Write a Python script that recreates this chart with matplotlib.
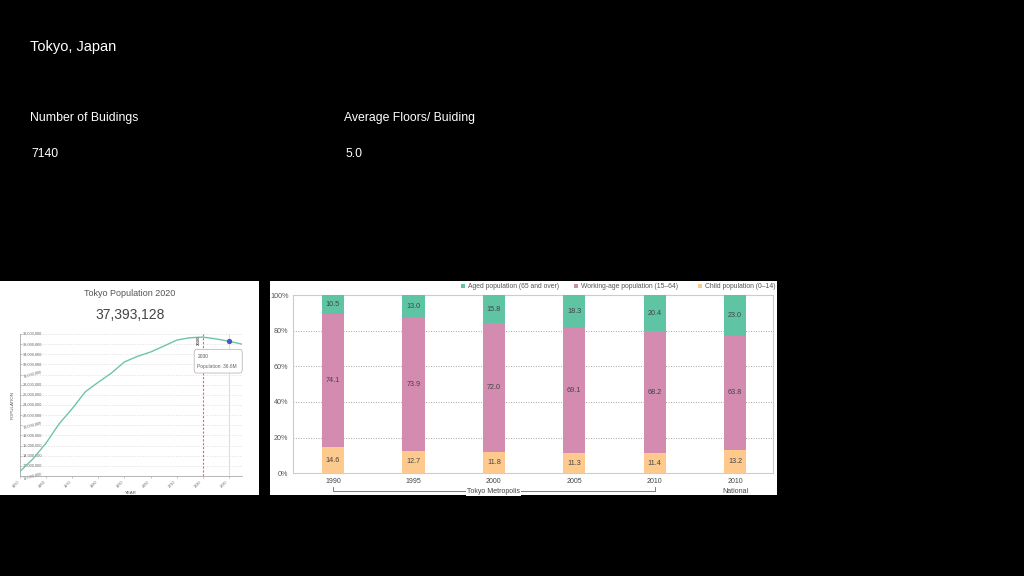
import matplotlib
matplotlib.use('Agg')
import matplotlib.pyplot as plt
import matplotlib.transforms as mtransforms
from matplotlib.patches import FancyBboxPatch, Rectangle

plt.rcParams['font.family'] = ['Liberation Sans', 'DejaVu Sans']

# ---- data ----
city = "Tokyo, Japan"
stat_names = ["Number of Buidings", "Average Floors/ Buiding"]
stat_values = ["7140", "5.0"]

years = [1950, 1955, 1960, 1965, 1970, 1975, 1980, 1985, 1990, 1995,
         2000, 2005, 2010, 2015, 2020, 2025, 2030, 2035]
population = [10.9, 13.4, 16.5, 20.3, 23.3, 26.6, 28.5, 30.3, 32.5, 33.6,
              34.45, 35.6, 36.8, 37.26, 37.39, 37.04, 36.57, 36.0]  # millions
pop_title = "Tokyo Population 2020"
pop_total = "37,393,128"
highlight_year = 2030
highlight_value = 36.57

bar_labels = ["1990", "1995", "2000", "2005", "2010", "2010"]
child = [14.6, 12.7, 11.8, 11.3, 11.4, 13.2]
working = [74.1, 73.9, 72.0, 69.1, 68.2, 63.8]
aged = [10.5, 13.0, 15.8, 18.3, 20.4, 23.0]
series_names = ["Aged population (65 and over)",
                "Working-age population (15\u201364)",
                "Child population (0\u201314)"]

W, H = 1024, 576
fig = plt.figure(figsize=(W / 100, H / 100), dpi=100, facecolor='black')


def box(x0, y0, x1, y1):
    # pixel box (top-left origin) -> figure fraction rect
    return [x0 / W, 1 - y1 / H, (x1 - x0) / W, (y1 - y0) / H]


# ---- header text ----
fig.text(30 / W, 1 - 47 / H, city, color='white', fontsize=10.5, va='center')
for i, (n, v) in enumerate(zip(stat_names, stat_values)):
    x = [30, 344][i] / W
    fig.text(x, 1 - 118 / H, n, color='white', fontsize=8.8, va='center')
    fig.text(x + 1 / W, 1 - 154 / H, v, color='white', fontsize=8.8, va='center')

# ---- white panels ----
for (x0, y0, x1, y1) in [(0, 281, 259, 495), (270, 281, 777, 495)]:
    fig.patches.append(Rectangle((x0 / W, 1 - y1 / H), (x1 - x0) / W, (y1 - y0) / H,
                                 transform=fig.transFigure, facecolor='white',
                                 edgecolor='none', zorder=-5))

# ---- left: population line ----
fig.text(130 / W, 1 - 294 / H, pop_title, ha='center', va='center',
         fontsize=6.5, color='#555555')
fig.text(130 / W, 1 - 315 / H, pop_total, ha='center', va='center',
         fontsize=10, color='#444444')

ax = fig.add_axes(box(20, 334, 242, 476))
ax.set_facecolor('none')
ax.plot(years, population, color='#6cc6a6', lw=1.0, zorder=3)
ax.set_xlim(1950, 2035)
ax.set_ylim(10, 38)
yt = list(range(10, 39, 2))
ax.set_yticks(yt)
ax.set_yticklabels([])
ytr = mtransforms.blended_transform_factory(ax.transAxes, ax.transData)
for v in yt:
    ax.text(0.012, v, f"{v},000,000", transform=ytr, fontsize=2.8, color='#666666',
            ha='left', va='center', rotation=15 if v % 10 == 0 else 0, zorder=2)
ax.set_xticks(range(1950, 2031, 10))
ax.set_xticklabels([str(y) for y in range(1950, 2031, 10)], rotation=45,
                   fontsize=2.8, color='#666666', ha='right')
ax.tick_params(axis='x', length=1.5, width=0.4, color='#999999', pad=1)
ax.tick_params(axis='y', length=1.2, width=0.4, color='#999999', direction='in')
ax.grid(axis='y', color='#dddddd', lw=0.5, ls=(0, (2, 2)))
for s in ['top', 'right']:
    ax.spines[s].set_visible(False)
for s in ['left', 'bottom']:
    ax.spines[s].set_color('#aaaaaa')
    ax.spines[s].set_linewidth(0.6)
ax.set_ylabel("POPULATION", fontsize=3.2, color='#555555')
ax.yaxis.set_label_coords(-0.025, 0.5)
ax.set_xlabel("YEAR", fontsize=3.2, color='#555555', labelpad=2)
ax.axvline(2020, color='#ff5a5a', lw=0.8, ls=(0, (2, 1.5)), zorder=2)
ax.text(2019.2, 37.8, "2020", rotation=90, fontsize=3.2, color='#555555',
        ha='right', va='top', fontweight='bold')
ax.axvline(highlight_year, color='#dddddd', lw=0.8, zorder=1)
ax.plot([highlight_year], [highlight_value], 'o', color='#5050c8', ms=2.8, zorder=4)
tip = FancyBboxPatch((2016.7, 30.3), 18.4, 4.67, boxstyle='round,pad=0,rounding_size=0.8',
                     transform=ax.transData, facecolor='white', edgecolor='#bbbbbb',
                     lw=0.6, zorder=5, clip_on=False,
                     mutation_aspect=1 / 1.2)
ax.add_patch(tip)
ax.text(2017.9, 33.5, str(highlight_year), fontsize=3.5, color='#555555', va='center', zorder=6)
ax.text(2017.9, 31.5, f"Population: {highlight_value:.1f}M", fontsize=3.5,
        color='#666666', va='center', zorder=6)

# ---- right: stacked bars ----
bx = fig.add_axes(box(292.7, 295, 773, 473.3))
bx.set_facecolor('white')
pos = list(range(len(bar_labels)))
colors = {'aged': '#5fc4a4', 'work': '#d48bb0', 'child': '#fdc98c'}
totals = [c + w + a for c, w, a in zip(child, working, aged)]
child_n = [c / t * 100 for c, t in zip(child, totals)]
work_n = [w / t * 100 for w, t in zip(working, totals)]
aged_n = [a / t * 100 for a, t in zip(aged, totals)]
bw = 0.277
bx.bar(pos, child_n, width=bw, color=colors['child'], zorder=3)
bx.bar(pos, work_n, width=bw, bottom=child_n, color=colors['work'], zorder=3)
bottom3 = [c + w for c, w in zip(child_n, work_n)]
bx.bar(pos, aged_n, width=bw, bottom=bottom3, color=colors['aged'], zorder=3)
for i, p in enumerate(pos):
    bx.text(p, child_n[i] / 2, f"{child[i]:.1f}", ha='center', va='center',
            fontsize=5.2, color='#444444', zorder=4)
    bx.text(p, child_n[i] + work_n[i] / 2, f"{working[i]:.1f}", ha='center', va='center',
            fontsize=5.2, color='#444444', zorder=4)
    bx.text(p, bottom3[i] + aged_n[i] / 2, f"{aged[i]:.1f}", ha='center', va='center',
            fontsize=5.2, color='#444444', zorder=4)
bx.set_xlim(-0.5, 5.47)
bx.set_ylim(0, 100)
bx.set_yticks(range(0, 101, 20))
bx.set_yticklabels([f"{v}%" for v in range(0, 101, 20)], fontsize=5.2, color='#555555')
bx.set_xticks(pos)
bx.set_xticklabels(bar_labels, fontsize=5, color='#444444')
bx.tick_params(length=0, pad=3)
bx.tick_params(axis='x', pad=3.5)
for v in range(20, 100, 20):
    bx.axhline(v, color='#999999', lw=0.6, ls=(0, (1.2, 1.8)), zorder=1)
for s in bx.spines.values():
    s.set_color('#cccccc')
    s.set_linewidth(0.8)

# bracket under Tokyo Metropolis bars
tr = mtransforms.blended_transform_factory(bx.transData, bx.transAxes)
y_br = -0.1
bx.plot([pos[0], pos[0], pos[4], pos[4]], [-0.075, y_br, y_br, -0.075], transform=tr,
        color='#666666', lw=0.6, clip_on=False)
bx.text((pos[0] + pos[4]) / 2, y_br, "Tokyo Metropolis", transform=tr, ha='center',
        va='center', fontsize=5, color='#444444',
        bbox=dict(facecolor='white', edgecolor='none', pad=0.8))
bx.text(pos[5], y_br, "National", transform=tr, ha='center', va='center',
        fontsize=5, color='#444444')

# legend row
leg_x = [463, 576, 700]
for x, name, col in zip(leg_x, series_names, [colors['aged'], colors['work'], colors['child']]):
    fig.patches.append(Rectangle(((x - 2) / W, 1 - 288 / H), 4 / W, 4 / H,
                                 transform=fig.transFigure, facecolor=col,
                                 edgecolor='none', zorder=2))
    fig.text((x + 5) / W, 1 - 286 / H, name, fontsize=4.9, color='#555555', va='center')

fig.savefig('out.png', dpi=100, facecolor='black')
